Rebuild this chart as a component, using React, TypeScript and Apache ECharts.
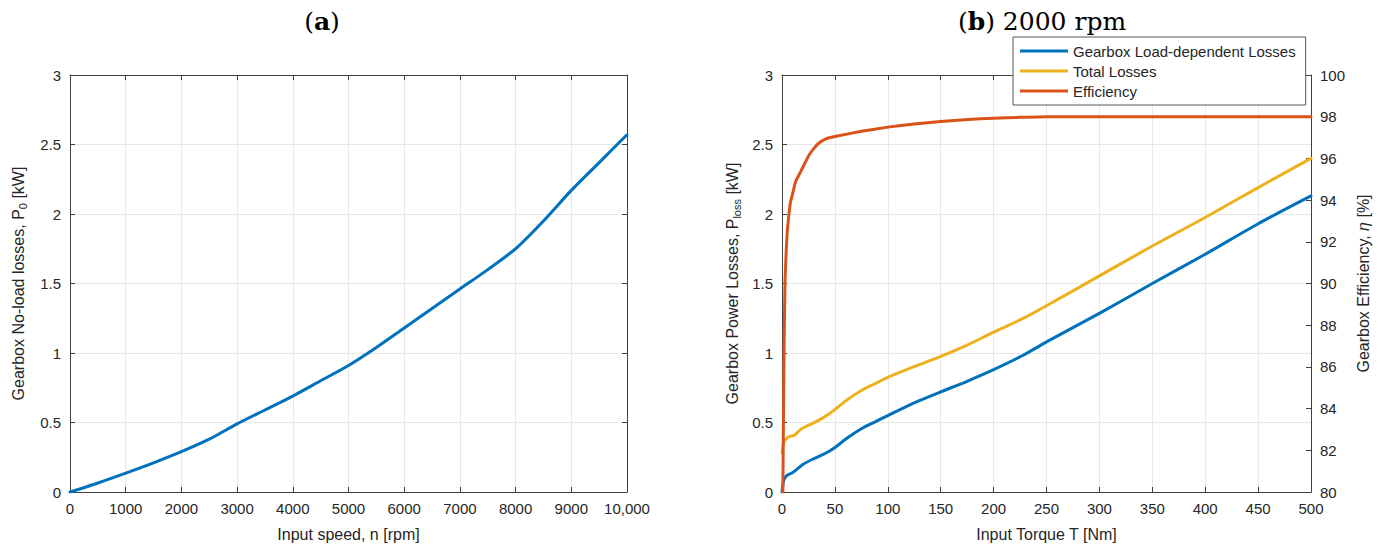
import React, { useEffect, useRef } from "react";
import * as echarts from "echarts";

// ---------- data ----------
const speedRpm = [0, 500, 1000, 1500, 2000, 2500, 3000, 3500, 4000, 4500, 5000, 5500, 6000, 6500, 7000, 7500, 8000, 8500, 9000, 9500, 10000];
const noLoadLossKW = [0, 0.065, 0.136, 0.21, 0.29, 0.38, 0.49, 0.59, 0.69, 0.8, 0.91, 1.04, 1.18, 1.32, 1.46, 1.6, 1.75, 1.95, 2.17, 2.37, 2.57];

const torqueNm = [0, 1, 2, 4, 6, 9, 12, 16, 20, 28, 37, 45, 50, 62, 75, 88, 100, 126, 150, 176, 200, 227, 250, 300, 350, 400, 450, 500];
const loadDepLossKW = [0, 0.06, 0.09, 0.115, 0.125, 0.135, 0.15, 0.175, 0.2, 0.232, 0.263, 0.295, 0.32, 0.39, 0.455, 0.505, 0.55, 0.645, 0.72, 0.8, 0.88, 0.98, 1.08, 1.285, 1.5, 1.71, 1.93, 2.13];
const totalLossKW = [0.28, 0.33, 0.36, 0.383, 0.395, 0.403, 0.41, 0.44, 0.462, 0.49, 0.526, 0.565, 0.593, 0.665, 0.73, 0.78, 0.825, 0.905, 0.975, 1.06, 1.15, 1.245, 1.34, 1.555, 1.77, 1.975, 2.19, 2.4];

const effTorqueNm = [0.8, 1.2, 1.6, 2, 2.5, 3, 4, 5, 6.5, 8, 10, 13, 18, 26, 34, 42, 50, 75, 100, 125, 150, 176, 200, 225, 250, 300, 350, 400, 450, 500];
const efficiencyPct = [80, 82.5, 85, 87, 89, 90.3, 91.6, 92.5, 93.3, 93.9, 94.3, 94.9, 95.4, 96.2, 96.7, 96.95, 97.05, 97.3, 97.5, 97.65, 97.77, 97.87, 97.93, 97.97, 98, 98, 98, 98, 98, 98];

const seriesNames = ["Gearbox Load-dependent Losses", "Total Losses", "Efficiency"];

const FONT = '"Liberation Sans", Arial, Helvetica, sans-serif';
const SERIF = '"DejaVu Serif", "Liberation Serif", serif';
const TEXT = "#262626";
const AXIS = "#404040";
const GRIDC = "#e8e8e8";
const BLUE = "#0072BD";
const YELLOW = "#EDB120";
const ORANGE = "#D95319";

const zip = (xs: number[], ys: number[]) => xs.map((x, i) => [x, ys[i]]);

const labelStyle = { fontSize: 15, color: TEXT, fontFamily: FONT };
const nameStyle = {
  fontSize: 16,
  color: TEXT,
  fontFamily: FONT,
  lineHeight: 20,
  rich: {
    sub: { fontSize: 11, color: TEXT, fontFamily: FONT, verticalAlign: "bottom", lineHeight: 12 },
    it: { fontSize: 16, color: TEXT, fontFamily: FONT, fontStyle: "italic", lineHeight: 20 },
  },
};

function mainAxis(extra: any) {
  return {
    type: "value",
    axisLine: { show: true, onZero: false, lineStyle: { color: AXIS, width: 1 } },
    axisTick: { show: true, inside: true, length: 5, lineStyle: { color: AXIS } },
    axisLabel: { ...labelStyle, margin: 9 },
    splitLine: { show: true, lineStyle: { color: GRIDC, width: 1 } },
    nameTextStyle: nameStyle,
    ...extra,
  };
}
function boxAxis(extra: any) {
  return {
    type: "value",
    axisLine: { show: true, onZero: false, lineStyle: { color: AXIS, width: 1 } },
    axisTick: { show: true, inside: true, length: 5, lineStyle: { color: AXIS } },
    axisLabel: { show: false },
    splitLine: { show: false },
    ...extra,
  };
}

const lineSeries = (name: string, xi: number, yi: number, data: number[][], color: string, smooth: number) => ({
  name,
  type: "line",
  xAxisIndex: xi,
  yAxisIndex: yi,
  data,
  symbol: "none",
  smooth,
  lineStyle: { color, width: 3, join: "round", cap: "round" },
  itemStyle: { color },
});

export default function App() {
  const ref = useRef<HTMLDivElement>(null);
  useEffect(() => {
    if (!ref.current) return;
    const chart = echarts.init(ref.current, null, { renderer: "svg" });
    const titleRich = {
      n: { fontFamily: SERIF, fontSize: 25, fill: "#000" },
      b: { fontFamily: SERIF, fontSize: 25, fontWeight: "bold", fill: "#000" },
    };
    const option: any = {
      animation: false,
      backgroundColor: "#ffffff",
      textStyle: { fontFamily: FONT },
      grid: [
        { left: 70, top: 75, width: 557, height: 417 },
        { left: 782, top: 75, width: 529, height: 417 },
      ],
      xAxis: [
        mainAxis({
          gridIndex: 0, position: "bottom", min: 0, max: 10000, interval: 1000,
          axisLabel: { ...labelStyle, margin: 9, formatter: (v: number) => (v === 10000 ? "10,000" : String(v)) },
          name: "Input speed, n [rpm]", nameLocation: "middle", nameGap: 32,
        }),
        boxAxis({ gridIndex: 0, position: "top", min: 0, max: 10000, interval: 1000 }),
        mainAxis({
          gridIndex: 1, position: "bottom", min: 0, max: 500, interval: 50,
          name: "Input Torque T [Nm]", nameLocation: "middle", nameGap: 32,
        }),
        boxAxis({ gridIndex: 1, position: "top", min: 0, max: 500, interval: 50 }),
      ],
      yAxis: [
        mainAxis({
          gridIndex: 0, position: "left", min: 0, max: 3, interval: 0.5,
          name: "Gearbox No-load losses, P{sub|0} [kW]", nameLocation: "middle", nameGap: 42, nameRotate: 90,
        }),
        boxAxis({ gridIndex: 0, position: "right", min: 0, max: 3, interval: 0.5 }),
        mainAxis({
          gridIndex: 1, position: "left", min: 0, max: 3, interval: 0.5,
          name: "Gearbox Power Losses, P{sub|loss} [kW]", nameLocation: "middle", nameGap: 40, nameRotate: 90,
        }),
        mainAxis({
          gridIndex: 1, position: "right", min: 80, max: 100, interval: 2,
          splitLine: { show: false },
          name: "Gearbox Efficiency, {it|η} [%]", nameLocation: "middle", nameGap: 42, nameRotate: 90,
        }),
      ],
      legend: {
        orient: "vertical",
        left: 1013,
        top: 37,
        icon: "rect",
        itemWidth: 48,
        itemHeight: 3,
        itemGap: 0,
        padding: [4, 10, 4, 7],
        backgroundColor: "#ffffff",
        borderColor: "#555555",
        borderWidth: 1,
        borderRadius: 0,
        textStyle: { fontSize: 15, color: TEXT, fontFamily: FONT, lineHeight: 20 },
        data: seriesNames,
      },
      graphic: [
        {
          type: "text", x: 322, y: 21, z: 10,
          style: { text: "{n|(}{b|a}{n|)}", align: "center", verticalAlign: "middle", rich: titleRich },
        },
        {
          type: "text", x: 1042, y: 21, z: 10,
          style: { text: "{n|(}{b|b}{n|) 2000 rpm}", align: "center", verticalAlign: "middle", rich: titleRich },
        },
      ],
      series: [
        lineSeries("No-load", 0, 0, zip(speedRpm, noLoadLossKW), BLUE, 0.25),
        lineSeries(seriesNames[0], 2, 2, zip(torqueNm, loadDepLossKW), BLUE, 0.25),
        lineSeries(seriesNames[1], 2, 2, zip(torqueNm, totalLossKW), YELLOW, 0.25),
        lineSeries(seriesNames[2], 2, 3, zip(effTorqueNm, efficiencyPct), ORANGE, 0.15),
      ],
    };
    chart.setOption(option);
    return () => chart.dispose();
  }, []);
  return <div ref={ref} style={{ position: "absolute", left: 0, top: 0, width: 1382, height: 552 }} />;
}
